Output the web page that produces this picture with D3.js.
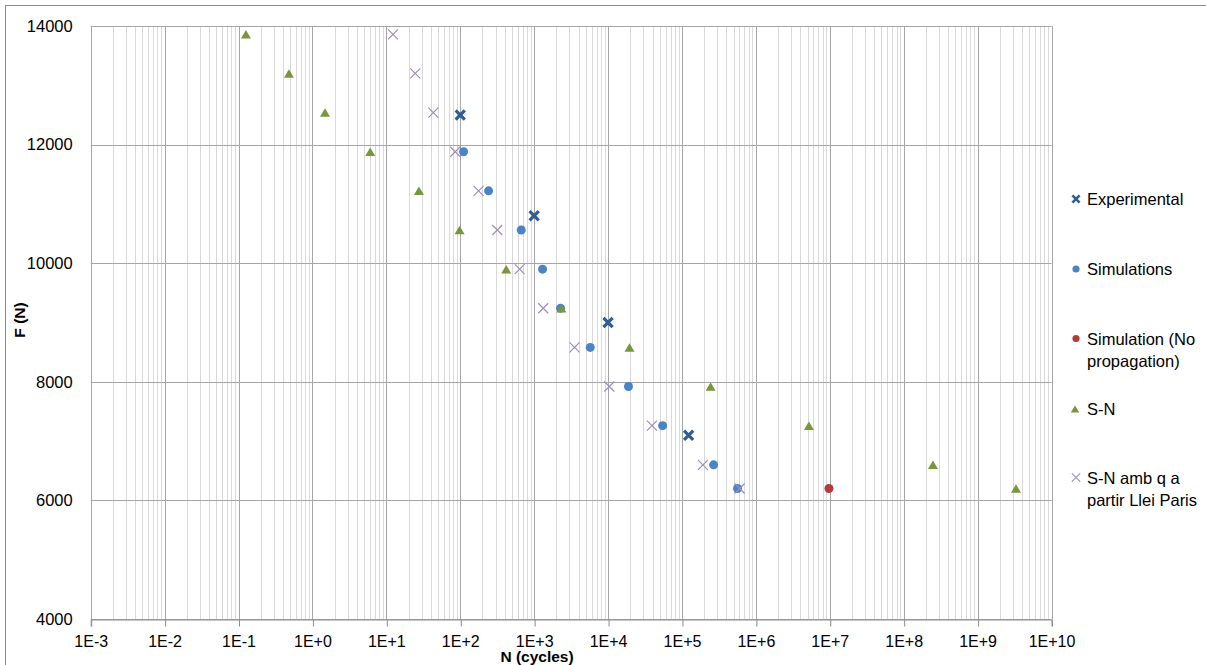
<!DOCTYPE html>
<html>
<head>
<meta charset="utf-8">
<script src="https://cdn.jsdelivr.net/npm/d3@7"></script>
<style>
  html, body { margin: 0; padding: 0; background: #fff; }
  svg { display: block; }
  text { font-family: "Liberation Sans", Arial, sans-serif; fill: #000; }
</style>
</head>
<body>
<svg id="chart" width="1206" height="665"></svg>
<script>
// S-N fatigue data: load F (N) against number of cycles N
const experimentalN = [100, 1000, 10000, 123000];
const experimentalF = [12500, 10800, 9000, 7100];

const simulationsN = [111, 242, 668, 1300, 2275, 5740, 18900, 54700, 268000, 565000];
const simulationsF = [11880, 11220, 10560, 9900, 9240, 8580, 7920, 7260, 6600, 6200];

const noPropagationN = [9.75e6];
const noPropagationF = [6200];

const snN = [0.126, 0.481, 1.48, 6.05, 27.6, 98, 419, 2330, 19500, 244000, 5.22e6, 2.49e8, 3.31e9];
const snF = [13860, 13200, 12540, 11880, 11220, 10560, 9900, 9240, 8580, 7920, 7260, 6600, 6200];

const parisN = [12.3, 24.6, 43.2, 85.5, 177, 317, 636, 1327, 3524, 10400, 39300, 192000, 603000];
const parisF = [13860, 13200, 12540, 11880, 11220, 10560, 9900, 9240, 8580, 7920, 7260, 6600, 6200];

const xTickExponents = [-3, -2, -1, 0, 1, 2, 3, 4, 5, 6, 7, 8, 9, 10];
const yTicks = [4000, 6000, 8000, 10000, 12000, 14000];

const legendLabels = [
  ["Experimental"],
  ["Simulations"],
  ["Simulation (No", "propagation)"],
  ["S-N"],
  ["S-N amb q a", "partir Llei Paris"]
];

const svg = d3.select("#chart");

const x = d3.scaleLog().domain([1e-3, 1e10]).range([90.7, 1051.5]);
const y = d3.scaleLinear().domain([4000, 14000]).range([619, 26]);

// Outer chart frame (top and left edges visible)
svg.append("rect")
  .attr("x", 5.5).attr("y", 5.5)
  .attr("width", 1300).attr("height", 800)
  .attr("fill", "none").attr("stroke", "#8c8c8c").attr("stroke-width", 1);

const grid = svg.append("g");

// Minor vertical gridlines (2..9 within each decade)
const minorVals = [];
for (let e = -3; e < 10; e++) {
  for (let m = 2; m <= 9; m++) minorVals.push(m * Math.pow(10, e));
}
grid.selectAll("line.minor").data(minorVals).enter().append("line")
  .attr("class", "minor")
  .attr("x1", d => Math.round(x(d)) + 0.5).attr("x2", d => Math.round(x(d)) + 0.5)
  .attr("y1", y(14000)).attr("y2", y(4000))
  .attr("stroke", "#d9d9d9").attr("stroke-width", 1);

// Major vertical gridlines at each decade
const decadeVals = xTickExponents.map(e => Math.pow(10, e));
grid.selectAll("line.major").data(decadeVals).enter().append("line")
  .attr("class", "major")
  .attr("x1", d => Math.round(x(d)) + 0.5).attr("x2", d => Math.round(x(d)) + 0.5)
  .attr("y1", y(14000)).attr("y2", y(4000))
  .attr("stroke", "#a6a6a6").attr("stroke-width", 1);

// Horizontal gridlines
grid.selectAll("line.h").data(yTicks).enter().append("line")
  .attr("class", "h")
  .attr("x1", x(1e-3)).attr("x2", x(1e10))
  .attr("y1", d => Math.round(y(d)) + 0.5).attr("y2", d => Math.round(y(d)) + 0.5)
  .attr("stroke", "#a6a6a6").attr("stroke-width", 1);

// X axis
const xAxis = d3.axisBottom(x)
  .tickValues(decadeVals)
  .tickSize(7)
  .tickPadding(9)
  .tickFormat(d => {
    const e = Math.round(Math.log10(d));
    return "1E" + (e >= 0 ? "+" : "-") + Math.abs(e);
  });
const gx = svg.append("g")
  .attr("transform", `translate(0,${Math.round(y(4000)) + 0.5})`)
  .call(xAxis);
gx.select(".domain").attr("stroke", "#8c8c8c");
gx.selectAll(".tick line").attr("stroke", "#8c8c8c")
  .attr("transform", "translate(0.5,0)");
gx.selectAll(".tick text")
  .style("font-family", '"Liberation Sans", Arial, sans-serif')
  .style("font-size", "16px").attr("fill", "#000");

// Y axis
const yAxis = d3.axisLeft(y).tickValues(yTicks).tickSize(0).tickPadding(18).tickFormat(d3.format("d"));
const gy = svg.append("g")
  .attr("transform", `translate(${x(1e-3)},0)`)
  .call(yAxis);
gy.select(".domain").remove();
gy.selectAll(".tick text")
  .style("font-family", '"Liberation Sans", Arial, sans-serif')
  .style("font-size", "16.5px").attr("fill", "#000");

// Axis titles
svg.append("text")
  .attr("x", 537).attr("y", 662)
  .attr("text-anchor", "middle")
  .style("font-size", "15.5px").style("font-weight", "bold")
  .text("N (cycles)");
svg.append("text")
  .attr("transform", "translate(25,320) rotate(-90)")
  .attr("text-anchor", "middle")
  .style("font-size", "15.5px").style("font-weight", "bold")
  .text("F (N)");

// Marker painters
const COL_EXP = "#2f5d93";
const COL_SIM = "#4a84c6";
const COL_NOP = "#b23c3a";
const COL_SN = "#77973d";
const COL_PAR = "#9f8dc0";

function drawCross(g, cx, cy, s, color, w) {
  g.append("path")
    .attr("d", `M${cx - s},${cy - s}L${cx + s},${cy + s}M${cx - s},${cy + s}L${cx + s},${cy - s}`)
    .attr("stroke", color).attr("stroke-width", w).attr("fill", "none");
}
function drawCircle(g, cx, cy, r, color) {
  g.append("circle").attr("cx", cx).attr("cy", cy).attr("r", r).attr("fill", color);
}
function drawTriangle(g, cx, cy, w, h, color) {
  g.append("path")
    .attr("d", `M${cx},${cy - h / 2}L${cx + w / 2},${cy + h / 2}L${cx - w / 2},${cy + h / 2}Z`)
    .attr("fill", color);
}

const marks = svg.append("g");

// Series drawn in legend order
experimentalN.forEach((n, i) => drawCross(marks, x(n), y(experimentalF[i]), 4.6, COL_EXP, 3.2));
simulationsN.forEach((n, i) => drawCircle(marks, x(n), y(simulationsF[i]), 4.5, COL_SIM));
noPropagationN.forEach((n, i) => drawCircle(marks, x(n), y(noPropagationF[i]), 4.5, COL_NOP));
snN.forEach((n, i) => drawTriangle(marks, x(n), y(snF[i]), 10, 8.5, COL_SN));
parisN.forEach((n, i) => drawCross(marks, x(n), y(parisF[i]), 5, COL_PAR, 1.2));

// Legend
const legendY = [199, 269, 338.5, 409, 477.5];
const legend = svg.append("g");
const lx = 1076;
drawCross(legend, lx, legendY[0], 3.6, COL_EXP, 2.6);
drawCircle(legend, lx, legendY[1], 3.6, COL_SIM);
drawCircle(legend, lx, legendY[2], 3.6, COL_NOP);
drawTriangle(legend, lx - 1, legendY[3], 8.5, 7, COL_SN);
drawCross(legend, lx, legendY[4], 4.2, COL_PAR, 1.1);

legendLabels.forEach((lines, i) => {
  const t = legend.append("text")
    .attr("x", 1087).attr("y", legendY[i] + 6)
    .style("font-size", "16.5px");
  lines.forEach((line, j) => {
    t.append("tspan").attr("x", 1087).attr("dy", j === 0 ? 0 : 22.5).text(line);
  });
});
</script>
</body>
</html>
